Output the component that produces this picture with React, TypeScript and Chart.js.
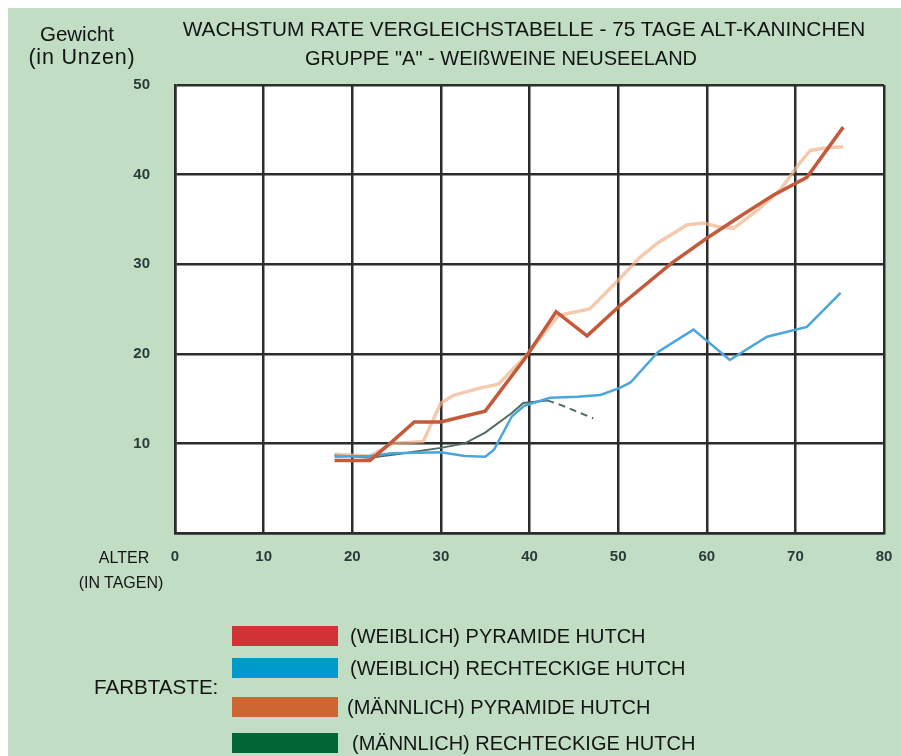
import React, { useEffect, useRef } from "react";
import { Chart, registerables } from "chart.js";

Chart.register(...registerables);

// ---- data ----
const titleLines = [
  "WACHSTUM RATE VERGLEICHSTABELLE - 75 TAGE ALT-KANINCHEN",
  'GRUPPE "A" - WEIßWEINE NEUSEELAND',
];
const yAxisTitle = ["Gewicht", "(in Unzen)"];
const xAxisTitle = ["ALTER", "(IN TAGEN)"];
const legendCaption = "FARBTASTE:";

const seriesNames = [
  "(WEIBLICH) PYRAMIDE HUTCH",
  "(WEIBLICH) RECHTECKIGE HUTCH",
  "(MÄNNLICH) PYRAMIDE HUTCH",
  "(MÄNNLICH) RECHTECKIGE HUTCH",
];
const legendColors = ["#d03236", "#0099cc", "#cc6633", "#006633"];
const lineColors = ["#c45a3a", "#4aa6dc", "rgba(240,180,140,0.7)", "#4f6c62"];

const xMin = 0;
const xMax = 80;
const xStep = 10;
const yMin = 0;
const yMax = 50;
const yStep = 10;

// (WEIBLICH) PYRAMIDE
const redDays = [18, 22, 24.5, 27, 30, 32.5, 35, 39.5, 43, 46.5, 50, 56, 60, 64, 67.5, 71.3, 75.4];
const redWeights = [8.1, 8.1, 10.2, 12.4, 12.4, 13, 13.6, 19.5, 24.7, 22, 25.2, 30.1, 32.9, 35.5, 37.7, 39.7, 45.3];

// (WEIBLICH) RECHTECKIGE
const blueDays = [18, 22, 24.5, 30, 32.7, 35, 36, 38, 39.4, 42.3, 45.4, 48, 50.2, 51.4, 54.5, 58.5, 62.6, 66.8, 71.3, 75.1];
const blueWeights = [8.5, 8.6, 8.9, 9.0, 8.6, 8.5, 9.3, 13, 14.2, 15.1, 15.2, 15.4, 16.2, 16.8, 20.2, 22.7, 19.3, 21.9, 23, 26.8];

// (MÄNNLICH) PYRAMIDE
const orangeDays = [18, 22, 24.5, 28, 30, 31.5, 34.5, 36.5, 39.7, 43.3, 46.8, 50, 52.5, 54.5, 57.8, 59.6, 61.2, 63, 65.7, 68.3, 70.5, 71.7, 73.6, 75.4];
const orangeWeights = [8.8, 8.6, 10, 10.2, 14.5, 15.4, 16.2, 16.6, 19.9, 24.3, 25, 28.2, 30.8, 32.4, 34.4, 34.6, 34.2, 34, 36, 38.3, 41.3, 42.7, 43, 43.1];

// (MÄNNLICH) RECHTECKIGE
const greenDays = [18, 22, 25, 30, 32.7, 35, 38, 39.3, 42, 43.5, 47.2];
const greenWeights = [8.7, 8.4, 8.8, 9.5, 10, 11.2, 13.4, 14.5, 14.8, 14.3, 12.8];
const greenDashFromDay = 42;

const FONT = "'Liberation Sans', Arial, Helvetica, sans-serif";
const BG = "#c1dec4";
const GRID = "#2c2c2c";

function toPoints(days: number[], weights: number[]) {
  return days.map((d, i) => ({ x: d, y: weights[i] }));
}

const plotBg = {
  id: "plotBg",
  beforeDraw(chart: any) {
    const { ctx, chartArea } = chart;
    ctx.save();
    ctx.fillStyle = "#ffffff";
    ctx.fillRect(chartArea.left, chartArea.top, chartArea.right - chartArea.left, chartArea.bottom - chartArea.top);
    ctx.restore();
  },
};

function Text(props: {
  x: number;
  y: number;
  text: string;
  size: number;
  align?: "left" | "center";
  spacing?: number;
}) {
  const { x, y, text, size, align = "left", spacing = 0 } = props;
  const lh = Math.round(size * 1.2);
  const style: React.CSSProperties = {
    position: "absolute",
    top: y - 8 - lh / 2,
    fontFamily: FONT,
    fontSize: size,
    lineHeight: lh + "px",
    whiteSpace: "nowrap",
    color: "#141414",
    letterSpacing: spacing ? spacing + "px" : undefined,
  };
  if (align === "center") {
    style.left = x - 8 - 450;
    style.width = 900;
    style.textAlign = "center";
  } else {
    style.left = x - 8;
  }
  return <div style={style}>{text}</div>;
}

export default function App() {
  const canvasRef = useRef<HTMLCanvasElement | null>(null);

  useEffect(() => {
    if (!canvasRef.current) return;
    const chart = new Chart(canvasRef.current, {
      type: "line",
      data: {
        datasets: [
          {
            label: seriesNames[0],
            data: toPoints(redDays, redWeights),
            borderColor: lineColors[0],
            borderWidth: 3.5,
          },
          {
            label: seriesNames[1],
            data: toPoints(blueDays, blueWeights),
            borderColor: lineColors[1],
            borderWidth: 2.5,
          },
          {
            label: seriesNames[2],
            data: toPoints(orangeDays, orangeWeights),
            borderColor: lineColors[2],
            borderWidth: 3.5,
          },
          {
            label: seriesNames[3],
            data: toPoints(greenDays, greenWeights),
            borderColor: lineColors[3],
            borderWidth: 2,
            segment: {
              borderDash: (ctx: any) => (ctx.p0.parsed.x >= greenDashFromDay ? [7, 5] : undefined),
            },
          },
        ],
      },
      options: {
        animation: false,
        responsive: false,
        maintainAspectRatio: false,
        elements: {
          point: { radius: 0, hoverRadius: 0 },
          line: { tension: 0, fill: false, borderJoinStyle: "miter" },
        },
        layout: { padding: { left: 0, top: 77, right: 17, bottom: 0 } },
        plugins: {
          legend: { display: false },
          title: { display: false },
          tooltip: { enabled: false },
        },
        scales: {
          x: {
            type: "linear",
            min: xMin,
            max: xMax,
            ticks: {
              stepSize: xStep,
              padding: 15,
              color: "#2b3a3a",
              font: { family: FONT, size: 15, weight: "bold" },
            },
            grid: { color: GRID, lineWidth: 2.5, drawTicks: false },
            border: { color: GRID, width: 2.5 },
            afterFit: (scale: any) => {
              scale.height = 223;
              scale.paddingLeft = 0;
              scale.paddingRight = 0;
            },
          },
          y: {
            type: "linear",
            min: yMin,
            max: yMax,
            ticks: {
              stepSize: yStep,
              padding: 25,
              color: "#2b3a3a",
              font: { family: FONT, size: 15, weight: "bold" },
              callback: (v: any) => (v === 0 ? "" : String(v)),
            },
            grid: { color: GRID, lineWidth: 2.5, drawTicks: false },
            border: { color: GRID, width: 2.5 },
            afterFit: (scale: any) => {
              scale.width = 167;
              scale.paddingTop = 0;
              scale.paddingBottom = 0;
            },
          },
        },
      },
      plugins: [plotBg],
    } as any);
    return () => chart.destroy();
  }, []);

  const legendRows = [636, 668, 707, 743];
  const legendTextX = [350, 350, 347, 352];

  return (
    <div
      style={{
        position: "fixed",
        left: 8,
        top: 8,
        width: 893,
        height: 748,
        background: BG,
        overflow: "hidden",
      }}
    >
      <canvas
        ref={canvasRef}
        width={893}
        height={748}
        style={{ position: "absolute", left: 0, top: 0, width: 893, height: 748 }}
      />
      <Text x={524} y={28} text={titleLines[0]} size={20.8} align="center" />
      <Text x={501} y={58} text={titleLines[1]} size={20} align="center" />
      <Text x={77} y={33} text={yAxisTitle[0]} size={20.5} align="center" />
      <Text x={82} y={57} text={yAxisTitle[1]} size={21.5} align="center" spacing={0.8} />
      <Text x={124} y={557} text={xAxisTitle[0]} size={16} align="center" />
      <Text x={121} y={582} text={xAxisTitle[1]} size={16} align="center" />
      <Text x={94} y={686} text={legendCaption} size={20.6} />
      {seriesNames.map((name, i) => (
        <React.Fragment key={name}>
          <div
            style={{
              position: "absolute",
              left: 232 - 8,
              top: legendRows[i] - 10 - 8,
              width: 106,
              height: 20,
              background: legendColors[i],
            }}
          />
          <Text x={legendTextX[i]} y={legendRows[i]} text={name} size={20} />
        </React.Fragment>
      ))}
    </div>
  );
}
